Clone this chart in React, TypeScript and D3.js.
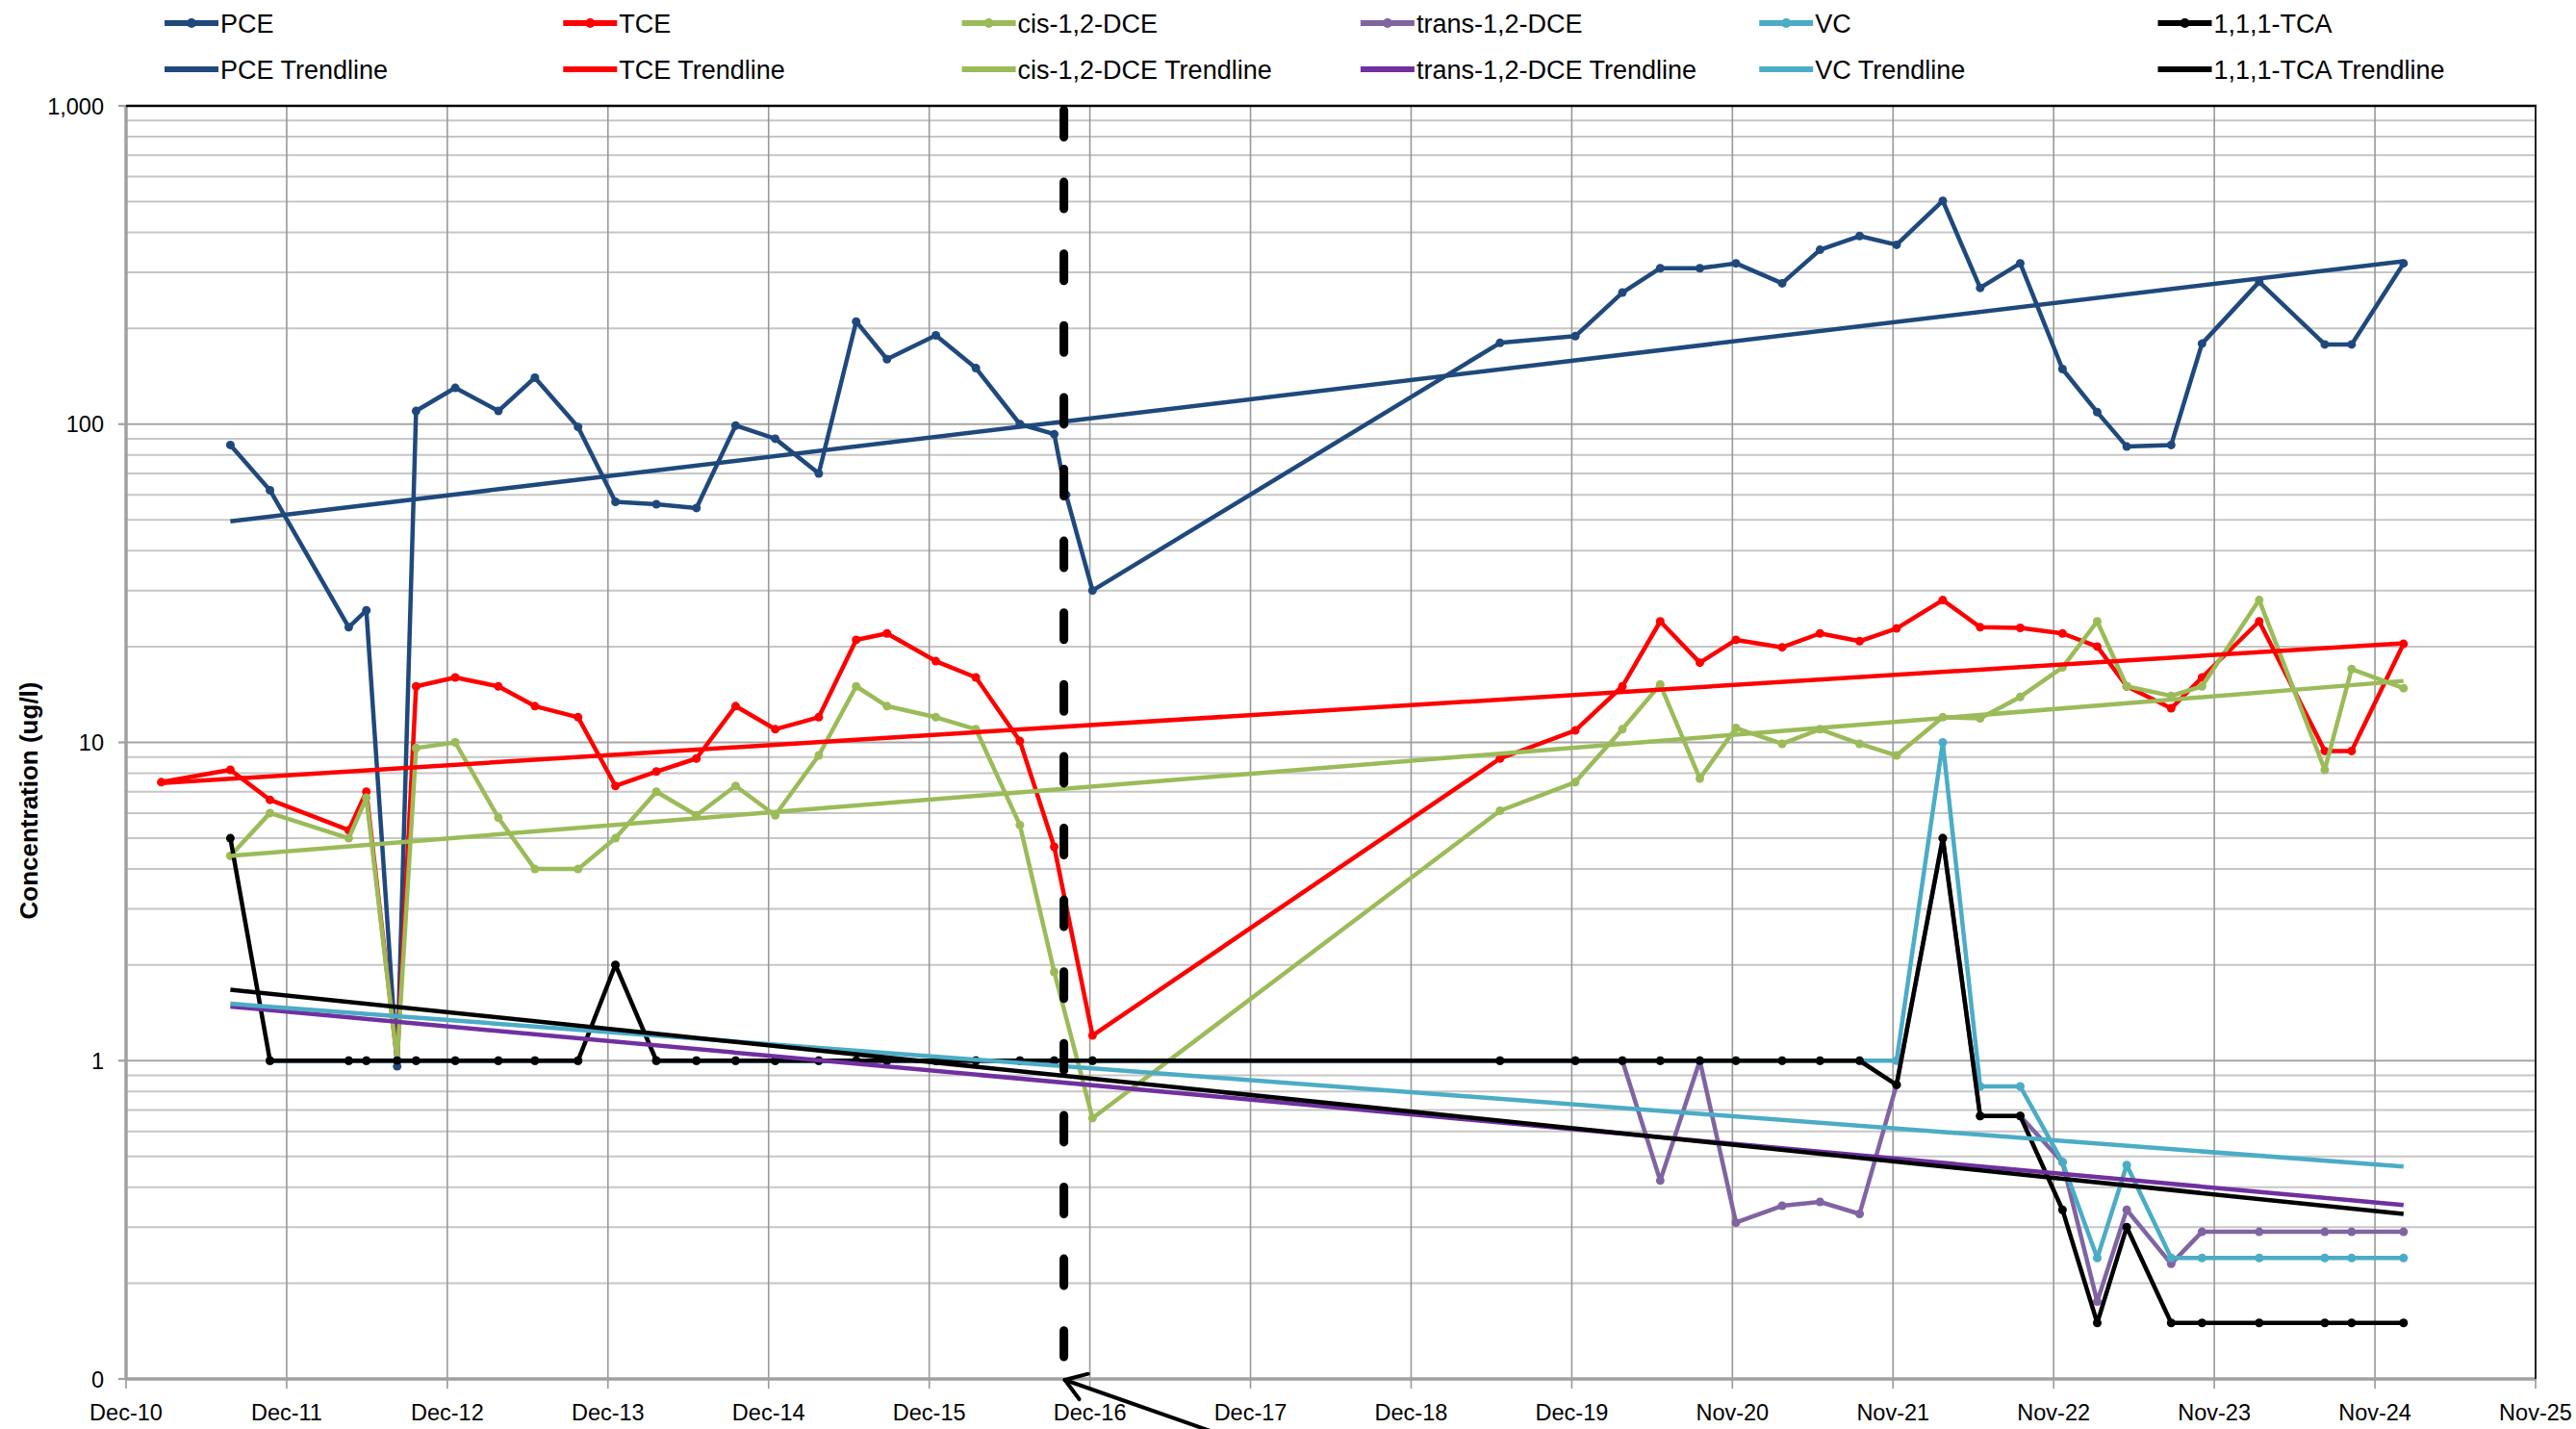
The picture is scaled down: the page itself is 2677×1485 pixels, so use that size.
import React from "react";
import * as d3 from "d3";

// ---------- DATA ----------
const sampleDates = [
  "2011-02-21", "2011-07-28", "2011-10-26", "2012-04-22", "2012-06-01", "2012-08-10",
  "2012-09-22", "2012-12-20", "2013-03-28", "2013-06-19", "2013-09-25", "2013-12-19",
  "2014-03-22", "2014-06-21", "2014-09-18", "2014-12-17", "2015-03-26", "2015-06-19",
  "2015-08-28", "2015-12-17", "2016-03-17", "2016-06-25", "2016-09-11", "2016-10-08",
  "2016-12-07", "2019-06-21", "2019-12-09", "2020-03-25", "2020-06-19", "2020-09-17",
  "2020-12-08", "2021-03-23", "2021-06-17", "2021-09-15", "2021-12-08", "2022-03-23",
  "2022-06-16", "2022-09-15", "2022-12-20", "2023-03-09", "2023-05-15", "2023-08-24",
  "2023-11-02", "2024-03-11", "2024-08-07", "2024-10-07", "2025-02-02",
];

const pce = [
  null, 86, 62, 23, 26, 0.96, 110, 130, 110, 140, 98, 57, 56, 54.5, 99, 90, 70, 210, 160, 190,
  150, 100, 93, 60, 30, 180, 189, 259, 309, 309, 320, 277, 353, 390, 366, 503, 268, 320, 149,
  109, 85, 86, 179, 280, 178, 178, 320,
];
const tce = [
  7.5, 8.2, 6.6, 5.3, 7.0, 1.0, 15, 16, 15, 13, 12, 7.3, 8.1, 8.9, 13, 11, 12, 21, 22, 18, 16,
  10.1, 4.7, null, 1.2, 8.9, 10.9, 15, 24, 17.8, 21, 19.9, 22, 20.8, 22.8, 28, 23, 22.9, 22, 20,
  15, 12.8, 16, 24, 9.4, 9.4, 20.4,
];
const cisDce = [
  null, 4.4, 6.0, 5.0, 6.7, 1.0, 9.6, 10, 5.8, 4.0, 4.0, 5.0, 7.0, 5.9, 7.3, 5.9, 9.1, 15, 13,
  12, 11, 5.5, 1.9, null, 0.66, 6.1, 7.5, 11, 15.2, 7.7, 11.1, 9.9, 11, 9.9, 9.1, 12, 11.9, 13.9,
  17.2, 24, 15, 14, 15, 28, 8.2, 17, 14.8,
];
const transDce = [
  null, null, 1, 1, 1, 1, 1, 1, 1, 1, 1, null, 1, 1, 1, 1, 1, 1, 1, 1, 1, 1, 1, null, 1, 1, 1, 1,
  0.42, 1, 0.31, 0.35, 0.36, 0.33, 0.84, 5, 0.67, 0.67, 0.48, 0.175, 0.34, 0.23, 0.29, 0.29,
  0.29, 0.29, 0.29,
];
const vc = [
  null, null, 1, 1, 1, 1, 1, 1, 1, 1, 1, null, 1, 1, 1, 1, 1, 1, 1, 1, 1, 1, 1, null, 1, 1, 1, 1, 1,
  1, 1, 1, 1, 1, 1, 10, 0.83, 0.83, 0.48, 0.24, 0.47, 0.24, 0.24, 0.24, 0.24, 0.24, 0.24,
];
const tca = [
  null, 5.0, 1, 1, 1, 1, 1, 1, 1, 1, 1, 2.0, 1, 1, 1, 1, 1, 1, 1, 1, 1, 1, 1, null, 1, 1, 1, 1,
  1, 1, 1, 1, 1, 1, 0.84, 5.0, 0.67, 0.67, 0.34, 0.15, 0.3, 0.15, 0.15, 0.15, 0.15, 0.15, 0.15,
];

// Exponential trendlines: [date, value] at the two ends
const pceTrend: [string, number][] = [["2011-07-28", 49.5], ["2025-02-02", 325]];
const tceTrend: [string, number][] = [["2011-02-21", 7.45], ["2025-02-02", 20.5]];
const cisTrend: [string, number][] = [["2011-07-28", 4.4], ["2025-02-02", 15.6]];
const transTrend: [string, number][] = [["2011-07-28", 1.48], ["2025-02-02", 0.352]];
const vcTrend: [string, number][] = [["2011-07-28", 1.51], ["2025-02-02", 0.465]];
const tcaTrend: [string, number][] = [["2011-07-28", 1.67], ["2025-02-02", 0.33]];

const seriesNames = ["PCE", "TCE", "cis-1,2-DCE", "trans-1,2-DCE", "VC", "1,1,1-TCA"];
const seriesColors = ["#1F497D", "#FF0000", "#9BBB59", "#8064A2", "#4BACC6", "#000000"];
const trendColors = ["#1F497D", "#FF0000", "#9BBB59", "#7030A0", "#4BACC6", "#000000"];
const seriesValues = [pce, tce, cisDce, transDce, vc, tca];
// whether blank samples are bridged (true) or left as gaps (false)
const bridgeBlanks = [true, true, true, false, false, true];
const trendValues = [pceTrend, tceTrend, cisTrend, transTrend, vcTrend, tcaTrend];

const xTickLabels = [
  "Dec-10", "Dec-11", "Dec-12", "Dec-13", "Dec-14", "Dec-15", "Dec-16", "Dec-17",
  "Dec-18", "Dec-19", "Nov-20", "Nov-21", "Nov-22", "Nov-23", "Nov-24", "Nov-25",
];
const axisStartDate = "2010-12-03";
const tickStepDays = 365;
const yTickValues = [0.1, 1, 10, 100, 1000];
const yTickLabels = ["0", "1", "10", "100", "1,000"];
const yTitle = "Concentration (ug/l)";
const treatmentDate = "2016-10-03";

// ---------- LAYOUT ----------
const W = 2677;
const H = 1485;
const M = { left: 131, right: 2635, top: 110, bottom: 1433 };
const FONT = "'Liberation Sans', Arial, sans-serif";

type Pt = { date: Date; v: number | null };

export default function App() {
  const parse = d3.timeParse("%Y-%m-%d");
  const start = parse(axisStartDate)!;
  const tickDates = xTickLabels.map((_, i) => d3.timeDay.offset(start, i * tickStepDays));
  const x = d3
    .scaleTime()
    .domain([start, tickDates[tickDates.length - 1]])
    .range([M.left, M.right]);
  const y = d3.scaleLog().domain([0.1, 1000]).range([M.bottom, M.top]);

  const minor: number[] = [];
  [0.1, 1, 10, 100].forEach((d) => {
    for (let k = 2; k <= 9; k++) minor.push(d * k);
  });

  const line = d3
    .line<Pt>()
    .defined((d) => d.v != null)
    .x((d) => x(d.date))
    .y((d) => y(d.v as number));

  const seriesPts = seriesValues.map((vals, si) => {
    const all: Pt[] = sampleDates.map((d, i) => ({ date: parse(d)!, v: vals[i] as number | null }));
    // leading blanks are always dropped; interior blanks bridged or gapped
    const firstIdx = all.findIndex((p) => p.v != null);
    const trimmed = all.slice(firstIdx);
    return bridgeBlanks[si] ? trimmed.filter((p) => p.v != null) : trimmed;
  });

  const tx = x(parse(treatmentDate)!);
  // arrow geometry
  const tipX = tx + 1;
  const tipY = M.bottom + 1;
  const tailX = 1272;
  const tailY = 1492;
  const ang = Math.atan2(tailY - tipY, tailX - tipX);
  const headLen = 25;
  const a1 = ang - (34 * Math.PI) / 180;
  const a2 = ang + (34 * Math.PI) / 180;

  const legendX0 = 171;
  const legendDX = 414.3;
  const legendRows = [24, 72];

  return (
    <svg
      width={W}
      height={H}
      style={{ position: "absolute", left: 0, top: 0, background: "#fff" }}
      fontFamily={FONT}
    >
      <rect x={0} y={0} width={W} height={H} fill="#fff" />
      {/* minor horizontal gridlines */}
      {minor.map((v) => (
        <line key={"mn" + v} x1={M.left} x2={M.right} y1={y(v)} y2={y(v)} stroke="#c6c6c6" strokeWidth={2} />
      ))}
      {/* major horizontal gridlines */}
      {yTickValues.map((v) => (
        <line key={"mj" + v} x1={M.left} x2={M.right} y1={y(v)} y2={y(v)} stroke="#a6a6a6" strokeWidth={2.2} />
      ))}
      {/* vertical gridlines */}
      {tickDates.map((d, i) => (
        <line key={"vg" + i} x1={x(d)} x2={x(d)} y1={M.top} y2={M.bottom + 10} stroke="#999" strokeWidth={1.6} />
      ))}
      {/* axes */}
      <line x1={M.left} x2={M.left} y1={M.top} y2={M.bottom} stroke="#a0a0a0" strokeWidth={3.5} />
      <line x1={M.left - 1} x2={M.right} y1={M.bottom} y2={M.bottom} stroke="#a0a0a0" strokeWidth={3.5} />
      <line x1={M.left} x2={M.right + 1} y1={M.top} y2={M.top} stroke="#000" strokeWidth={2.5} />
      <line x1={M.right} x2={M.right} y1={M.top} y2={M.bottom} stroke="#222" strokeWidth={2} />
      {yTickValues.map((v) => (
        <line key={"yt" + v} x1={M.left - 8} x2={M.left} y1={y(v)} y2={y(v)} stroke="#a0a0a0" strokeWidth={2.2} />
      ))}
      {/* y tick labels */}
      {yTickValues.map((v, i) => (
        <text key={"yl" + v} x={108} y={y(v) + 8.5} textAnchor="end" fontSize={23.5} fill="#000">
          {yTickLabels[i]}
        </text>
      ))}
      {/* x tick labels */}
      {tickDates.map((d, i) => (
        <text key={"xl" + i} x={x(d)} y={1476} textAnchor="middle" fontSize={23.5} fill="#000">
          {xTickLabels[i]}
        </text>
      ))}
      {/* y title */}
      <text
        transform={`translate(39, 832) rotate(-90)`}
        textAnchor="middle"
        fontSize={26}
        fontWeight="bold"
        fill="#000"
      >
        {yTitle}
      </text>

      {/* series */}
      {seriesPts.map((pts, si) => (
        <g key={"s" + si}>
          <path
            d={line(pts) || ""}
            fill="none"
            stroke={seriesColors[si]}
            strokeWidth={4.5}
            strokeLinejoin="round"
          />
          {pts
            .filter((p) => p.v != null)
            .map((p, i) => (
              <circle key={i} cx={x(p.date)} cy={y(p.v as number)} r={4.5} fill={seriesColors[si]} />
            ))}
        </g>
      ))}
      {/* trendlines */}
      {trendValues.map((t, si) => (
        <line
          key={"t" + si}
          x1={x(parse(t[0][0])!)}
          y1={y(t[0][1])}
          x2={x(parse(t[1][0])!)}
          y2={y(t[1][1])}
          stroke={trendColors[si]}
          strokeWidth={4.5}
        />
      ))}

      {/* treatment dashed line */}
      <line
        x1={tx}
        x2={tx}
        y1={M.top + 4.5}
        y2={1410}
        stroke="#000"
        strokeWidth={9}
        strokeDasharray="28 46.6"
        strokeLinecap="round"
      />
      {/* arrow */}
      <g stroke="#000" strokeWidth={4} strokeLinecap="round" fill="none">
        <line x1={tailX} y1={tailY} x2={tipX} y2={tipY} />
        <line x1={tipX} y1={tipY} x2={tipX + headLen * Math.cos(a1)} y2={tipY + headLen * Math.sin(a1)} />
        <line x1={tipX} y1={tipY} x2={tipX + headLen * Math.cos(a2)} y2={tipY + headLen * Math.sin(a2)} />
      </g>

      {/* legend */}
      {seriesNames.map((n, i) => {
        const lx = legendX0 + i * legendDX;
        return (
          <g key={"lg" + i}>
            <line x1={lx} x2={lx + 56} y1={legendRows[0]} y2={legendRows[0]} stroke={seriesColors[i]} strokeWidth={6} />
            <circle cx={lx + 28} cy={legendRows[0]} r={5} fill={seriesColors[i]} />
            <text x={lx + 58} y={legendRows[0] + 10} fontSize={27} fill="#000">
              {n}
            </text>
            <line x1={lx} x2={lx + 56} y1={legendRows[1]} y2={legendRows[1]} stroke={trendColors[i]} strokeWidth={6} />
            <text x={lx + 58} y={legendRows[1] + 10} fontSize={27} fill="#000">
              {n + " Trendline"}
            </text>
          </g>
        );
      })}
    </svg>
  );
}
